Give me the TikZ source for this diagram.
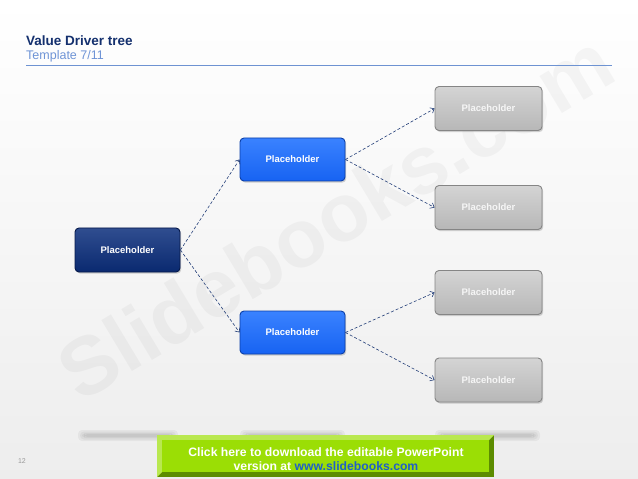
\documentclass[tikz,border=0pt]{standalone}
\usepackage{fontspec}
\setmainfont{Liberation Sans}
\usetikzlibrary{arrows.meta,shadows}
\definecolor{navy}{HTML}{0B2E7C}
\definecolor{navyline}{HTML}{06194A}
\definecolor{bblue}{HTML}{1763F2}
\definecolor{bbluetop}{HTML}{3A82FF}
\definecolor{bblueline}{HTML}{0B3FA8}
\definecolor{gtop}{HTML}{D4D4D4}
\definecolor{gbot}{HTML}{B7B7B7}
\definecolor{gline}{HTML}{858585}
\definecolor{titlec}{HTML}{14306E}
\definecolor{subc}{HTML}{6F94D6}
\definecolor{rulec}{HTML}{6E93D2}
\definecolor{arrc}{HTML}{233E78}
\definecolor{bannerg}{HTML}{9BDE05}
\definecolor{bannerd}{HTML}{5C8C00}
\definecolor{linkc}{HTML}{1F5FC8}
\tikzset{
  box/.style={rounded corners=4bp, minimum width=105bp, minimum height=43bp, line width=0.9bp,
    font=\fontsize{9.5bp}{11bp}\selectfont\bfseries, text=white,
    drop shadow={shadow xshift=1.2bp, shadow yshift=-1.6bp, opacity=0.35}},
  rootbox/.style={box, draw=navyline, top color=navy!85!white, bottom color=navy!90!black},
  midbox/.style={box, draw=bblueline, top color=bbluetop, bottom color=bblue},
  greybox/.style={box, minimum width=107bp, minimum height=44bp, draw=gline, top color=gtop, bottom color=gbot, text=white!93!gray},
  link/.style={draw=arrc, line width=0.6bp, dash pattern=on 3bp off 2bp, -{Straight Barb[length=3.5bp,width=6bp]}},
  floorshadow/.style={fill=black, opacity=0.045, rounded corners=4bp}
}
\begin{document}
\begin{tikzpicture}[x=1bp,y=-1bp]
\useasboundingbox (0,0) rectangle (638,479);
\shade[top color=white, bottom color=black!7] (0,0) rectangle (638,479);
% watermark
\node[rotate=31, text=black, opacity=0.035, font=\fontsize{82bp}{82bp}\selectfont\bfseries] (wm) at (335,216) {Slidebooks.com};
% header
\node[anchor=base west, inner sep=0, text=titlec, font=\fontsize{13.5bp}{15bp}\selectfont\bfseries] (title) at (26,45.5) {Value Driver tree};
\node[anchor=base west, inner sep=0, text=subc, font=\fontsize{12.5bp}{14bp}\selectfont] (sub) at (26,60) {Template 7/11};
\coordinate (rl) at (26,65.5);
\coordinate (rr) at (612,65.5);
\draw[rulec, line width=1.3bp] (rl) -- (rr);
% floor shadows
\foreach \a/\b in {78/178, 240/345, 435/540}{
  \fill[floorshadow] (\a,430) rectangle (\b,441);
  \fill[floorshadow] (\a+2,431.5) rectangle (\b-2,439.5);
  \fill[floorshadow] (\a+4,433) rectangle (\b-4,438);
  \fill[floorshadow] (\a+6,434) rectangle (\b-6,437);
}
% boxes
\node[rootbox, minimum height=44bp] (root) at (127.5,250) {Placeholder};
\node[midbox] (m1) at (292.5,159.5) {Placeholder};
\node[midbox] (m2) at (292.5,332.5) {Placeholder};
\node[greybox] (r1) at (488.5,108.5) {Placeholder};
\node[greybox] (r2) at (488.5,207.5) {Placeholder};
\node[greybox] (r3) at (488.5,292.5) {Placeholder};
\node[greybox] (r4) at (488.5,380) {Placeholder};
% connectors
\draw[link] (root.east) -- (m1.west);
\draw[link] (root.east) -- (m2.west);
\draw[link] (m1.east) -- (r1.west);
\draw[link] (m1.east) -- (r2.west);
\draw[link] (m2.east) -- (r3.west);
\draw[link] (m2.east) -- (r4.west);
% banner
\fill[bannerd] (157,435) rectangle (494,477);
\fill[bannerg!70!white] (157,435) -- (494,435) -- (489,440) -- (162,440) -- (162,472) -- (157,477) -- cycle;
\fill[bannerg] (162,440) rectangle (489,472);
\node[align=center, text=white, inner sep=0, font=\fontsize{12.2bp}{14.5bp}\selectfont\bfseries] (banner) at (326,459)
  {Click here to download the editable PowerPoint\\version at \textcolor{linkc}{www.slidebooks.com}};
% page number
\node[text=black!40, font=\fontsize{7bp}{8bp}\selectfont] (pg) at (22,461) {12};
\end{tikzpicture}
\end{document}
